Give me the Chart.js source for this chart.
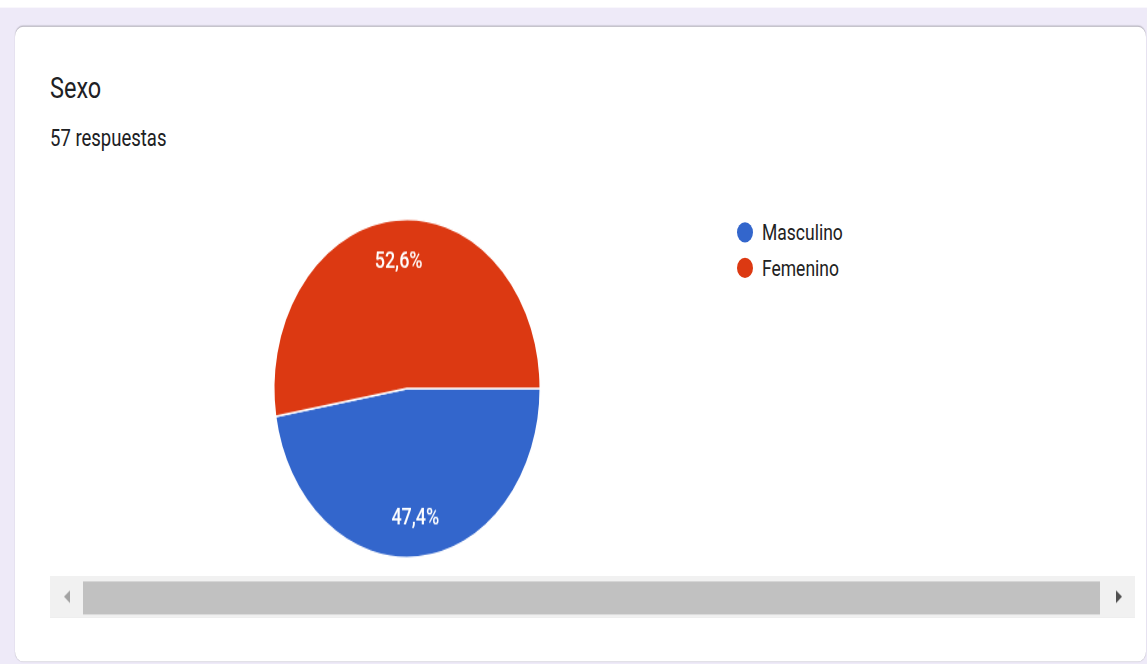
<!DOCTYPE html>
<html>
<head>
<meta charset="utf-8">
<script src="https://cdn.jsdelivr.net/npm/chart.js"></script>
<style>
  html, body { margin: 0; padding: 0; background: #fff; overflow: hidden; }
  body { width: 1147px; height: 664px; font-family: Roboto, "Noto Sans", sans-serif; }
  /* the whole card is laid out flat and stretched vertically */
  #page {
    position: absolute; left: 0; top: 0; width: 1147px; height: 523px;
    transform: scaleY(1.2696); transform-origin: 0 0;
  }
  #bg { position: absolute; left: 0; top: 5.5px; width: 1147px; height: 520px; background: #eeeaf8; }
  #card {
    position: absolute; left: 15px; top: 21.3px; width: 1131px; height: 500px;
    background: #fff; border-radius: 8px;
    box-shadow: 0 -1px 1px rgba(0,0,0,0.1), 0 0 1px rgba(0,0,0,0.18);
  }
  .title { position: absolute; left: 50px; top: 55px; font-size: 23.5px; color: #202124; }
  .sub { position: absolute; left: 50px; top: 98.3px; font-size: 18.5px; color: #202124; }
  #pieWrap { position: absolute; left: 257px; top: 156.3px; width: 300px; height: 300px; }
  #legend { position: absolute; left: 737px; top: 168.5px; }
  .item { height: 28.3px; line-height: 28.3px; display: flex; align-items: center; font-size: 17.5px; color: #222; }
  .dot { width: 16px; height: 16px; border-radius: 50%; margin-right: 9px; flex: none; }
  #track { position: absolute; left: 50px; top: 454.3px; width: 1085px; height: 32.3px; background: #f1f1f1; }
  #thumb { position: absolute; left: 83px; top: 457.5px; width: 1017px; height: 26px; background: #c1c1c1; }
  .arrow { position: absolute; top: 465px; width: 0; height: 0; border-top: 5.5px solid transparent; border-bottom: 5.5px solid transparent; }
  #arrL { left: 64px; border-right: 6px solid #a3a3a3; }
  #arrR { left: 1116px; border-left: 6px solid #505050; }
</style>
</head>
<body>
<div id="page">
  <div id="bg"></div>
  <div id="card"></div>
  <div class="title">Sexo</div>
  <div class="sub">57 respuestas</div>
  <div id="pieWrap"><canvas id="pie" width="300" height="300"></canvas></div>
  <div id="legend"></div>
  <div id="track"></div>
  <div id="thumb"></div>
  <div class="arrow" id="arrL"></div>
  <div class="arrow" id="arrR"></div>
</div>
<script>
const labels = ['Masculino', 'Femenino'];
const counts = [27, 30];
const colors = ['#3366cc', '#dc3912'];

// percentage text drawn inside each slice
const sliceLabels = {
  id: 'sliceLabels',
  afterDatasetsDraw(chart) {
    const ctx = chart.ctx;
    const meta = chart.getDatasetMeta(0);
    const data = chart.data.datasets[0].data;
    const total = data.reduce((a, b) => a + b, 0);
    ctx.save();
    ctx.fillStyle = '#fff';
    ctx.font = '500 18px Roboto';
    ctx.textAlign = 'center';
    ctx.textBaseline = 'middle';
    meta.data.forEach((arc, i) => {
      const p = arc.getProps(['x', 'y', 'startAngle', 'endAngle', 'outerRadius'], true);
      const mid = (p.startAngle + p.endAngle) / 2;
      const r = p.outerRadius * 0.76;
      const txt = (data[i] / total * 100).toFixed(1).replace('.', ',') + '%';
      ctx.fillText(txt, p.x + Math.cos(mid) * r, p.y + Math.sin(mid) * r + 1.5);
    });
    ctx.restore();
  }
};

new Chart(document.getElementById('pie'), {
  type: 'pie',
  data: {
    labels: labels,
    datasets: [{
      data: counts,
      backgroundColor: colors,
      borderColor: '#fff',
      borderWidth: 1.5
    }]
  },
  options: {
    responsive: false,
    animation: false,
    rotation: 90,
    layout: { padding: 16 },
    plugins: { legend: { display: false }, tooltip: { enabled: false } }
  },
  plugins: [sliceLabels]
});

// legend list
const legend = document.getElementById('legend');
labels.forEach((name, i) => {
  const row = document.createElement('div');
  row.className = 'item';
  row.innerHTML = `<span class="dot" style="background:${colors[i]}"></span>${name}`;
  legend.appendChild(row);
});
</script>
</body>
</html>
